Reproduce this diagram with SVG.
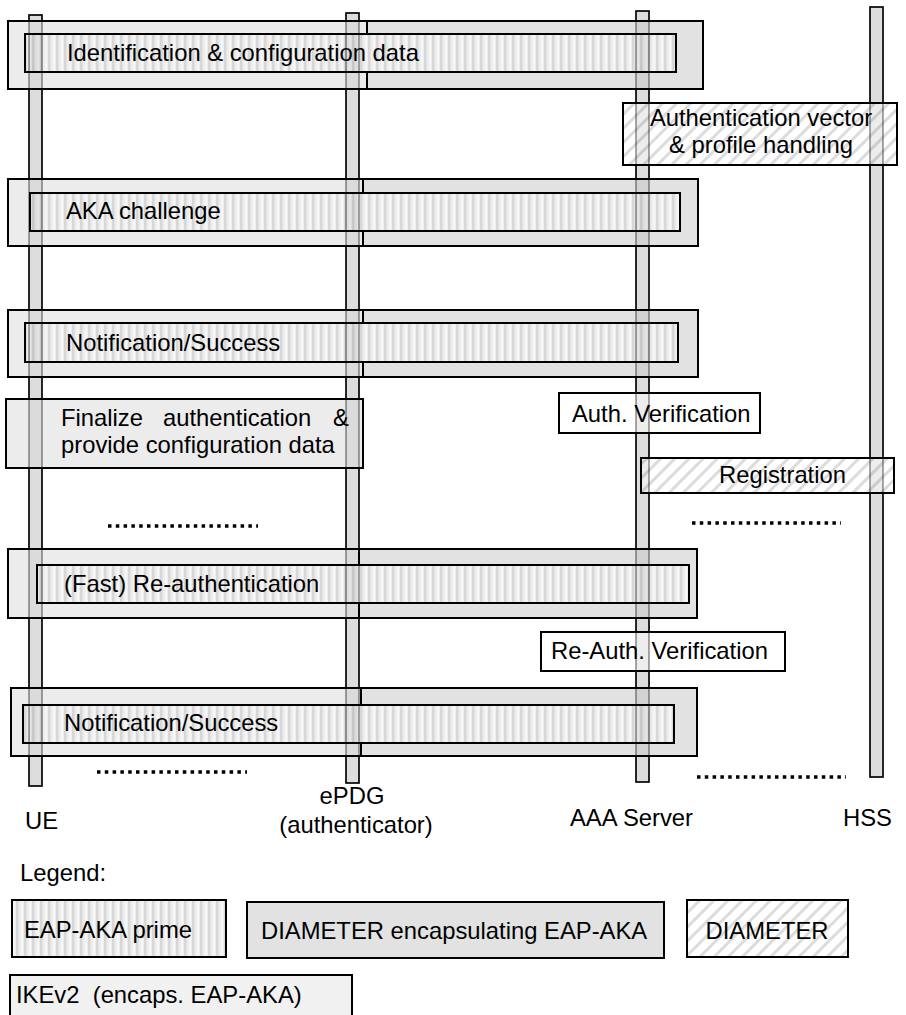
<svg xmlns="http://www.w3.org/2000/svg" width="906" height="1015" viewBox="0 0 906 1015">
  <style>
    text { font-family: "Liberation Sans", Arial, sans-serif; font-size: 23.8px; fill: #000; }
    .ike { fill: #ececec; stroke: #000; stroke-width: 2; }
    .dia { fill: #e2e2e2; stroke: #000; stroke-width: 2; }
    .eap { fill: url(#eapStripes); stroke: #000; stroke-width: 2; }
    .hatch { fill: url(#diaHatch); stroke: #000; stroke-width: 2; }
    .plain { fill: #fff; stroke: #000; stroke-width: 2; }
    .life { fill: #eeeeee; stroke: #000; stroke-width: 1.5; }
    .lifeOver { fill: #000; fill-opacity: 0.07; stroke: #000; stroke-opacity: 0.45; stroke-width: 1.5; }
    .dots { stroke: #000; stroke-width: 3.5; stroke-dasharray: 3.5 4.3; fill: none; }
  </style>
  <defs>
    <!-- vertical stripes: EAP-AKA prime -->
    <pattern id="eapStripes" patternUnits="userSpaceOnUse" width="8" height="8">
      <rect width="8" height="8" fill="#ededed"/>
      <rect x="0" width="2" height="8" fill="#d7d7d7"/>
      <rect x="2" width="1" height="8" fill="#e2e2e2"/>
      <rect x="5" width="2" height="8" fill="#f6f6f6"/>
    </pattern>
    <!-- diagonal hatch: DIAMETER -->
    <pattern id="diaHatch" patternUnits="userSpaceOnUse" width="10" height="10" patternTransform="rotate(45)">
      <rect width="10" height="10" fill="#fff"/>
      <rect x="0" width="3" height="10" fill="#dcdcdc"/>
    </pattern>
    <rect id="llUE" x="29" y="15" width="13" height="771"/>
    <rect id="llEPDG" x="346" y="13" width="13" height="770"/>
    <rect id="llAAA" x="636" y="11" width="13" height="771"/>
    <rect id="llHSS" x="870" y="7" width="13" height="770"/>
  </defs>

  <!-- lifelines (base layer) -->
  <g id="lifelines">
    <use id="lifeline-ue" href="#llUE" class="life"/>
    <use id="lifeline-epdg" href="#llEPDG" class="life"/>
    <use id="lifeline-aaa" href="#llAAA" class="life"/>
    <use id="lifeline-hss" href="#llHSS" class="life"/>
  </g>

  <g id="msg-identification">
    <rect class="ike" x="8" y="21" width="359" height="68"/>
    <rect class="dia" x="367" y="21" width="336" height="68"/>
    <rect class="eap" x="25" y="34" width="651" height="38"/>
    <text x="67" y="61">Identification &amp; configuration data</text>
  </g>

  <g id="proc-auth-vector">
    <rect class="hatch" x="623" y="103" width="274" height="62"/>
    <text x="761" y="126" text-anchor="middle">Authentication vector</text>
    <text x="761" y="153" text-anchor="middle">&amp; profile handling</text>
  </g>

  <g id="msg-aka-challenge">
    <rect class="ike" x="8" y="179" width="355" height="67"/>
    <rect class="dia" x="363" y="179" width="335" height="67"/>
    <rect class="eap" x="30" y="193" width="650" height="38"/>
    <text x="66" y="219">AKA challenge</text>
  </g>

  <g id="msg-notification-1">
    <rect class="ike" x="8" y="310" width="355" height="67"/>
    <rect class="dia" x="363" y="310" width="335" height="67"/>
    <rect class="eap" x="25" y="323" width="653" height="39"/>
    <text x="66" y="351">Notification/Success</text>
  </g>

  <g id="msg-finalize">
    <rect class="ike" x="6" y="399" width="357" height="69"/>
    <text y="426"><tspan x="61">Finalize</tspan><tspan x="163">authentication</tspan><tspan x="333">&amp;</tspan></text>
    <text x="61" y="453">provide configuration data</text>
  </g>

  <g id="proc-auth-verification">
    <rect class="plain" x="559" y="393" width="201" height="40"/>
    <text x="572" y="422">Auth. Verification</text>
  </g>

  <g id="proc-registration">
    <rect class="hatch" x="641" y="458" width="253" height="35"/>
    <text x="719" y="483">Registration</text>
  </g>

  <g id="msg-fast-reauth">
    <rect class="ike" x="8" y="549" width="351" height="69"/>
    <rect class="dia" x="359" y="549" width="338" height="69"/>
    <rect class="eap" x="37" y="565" width="652" height="38"/>
    <text x="64" y="592">(Fast) Re-authentication</text>
  </g>

  <g id="proc-reauth-verification">
    <rect class="plain" x="541" y="632" width="244" height="39"/>
    <text x="551" y="659">Re-Auth. Verification</text>
  </g>

  <g id="msg-notification-2">
    <rect class="ike" x="11" y="688" width="350" height="68"/>
    <rect class="dia" x="361" y="688" width="336" height="68"/>
    <rect class="eap" x="23" y="705" width="651" height="38"/>
    <text x="64" y="731">Notification/Success</text>
  </g>

  <!-- lifelines showing through the message boxes -->
  <g id="lifeline-overlay">
    <use href="#llUE" class="lifeOver"/>
    <use href="#llEPDG" class="lifeOver"/>
    <use href="#llAAA" class="lifeOver"/>
    <use href="#llHSS" class="lifeOver"/>
  </g>

  <!-- continuation marks -->
  <g id="connectors">
    <line class="dots" x1="108" y1="526" x2="258" y2="526"/>
    <line class="dots" x1="692" y1="523" x2="841" y2="523"/>
    <line class="dots" x1="97" y1="772" x2="247" y2="772"/>
    <line class="dots" x1="697" y1="777" x2="846" y2="777"/>
  </g>

  <g id="labels">
    <text x="25" y="829">UE</text>
    <text x="352" y="804" text-anchor="middle">ePDG</text>
    <text x="356" y="833" text-anchor="middle">(authenticator)</text>
    <text x="570" y="826">AAA Server</text>
    <text x="843" y="826">HSS</text>
  </g>

  <g id="legend">
    <text x="20" y="881">Legend:</text>
    <g id="legend-eap">
      <rect class="eap" x="12" y="900" width="214" height="57"/>
      <text x="24" y="938">EAP-AKA prime</text>
    </g>
    <g id="legend-diameter-eap">
      <rect class="dia" x="247" y="902" width="417" height="56"/>
      <text x="261" y="939">DIAMETER encapsulating EAP-AKA</text>
    </g>
    <g id="legend-diameter">
      <rect class="hatch" x="687" y="900" width="161" height="57"/>
      <text x="767" y="939" text-anchor="middle">DIAMETER</text>
    </g>
    <g id="legend-ikev2">
      <rect x="10" y="975" width="342" height="50" fill="#f1f1f1" stroke="#000" stroke-width="2"/>
      <text x="16" y="1003" xml:space="preserve">IKEv2  (encaps. EAP-AKA)</text>
    </g>
  </g>
</svg>
